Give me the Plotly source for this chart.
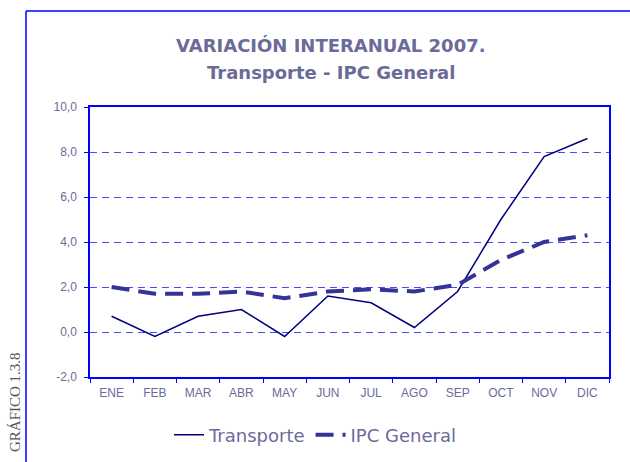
import plotly.graph_objects as go

months = ["ENE", "FEB", "MAR", "ABR", "MAY", "JUN", "JUL", "AGO", "SEP", "OCT", "NOV", "DIC"]
transporte = [0.7, -0.2, 0.7, 1.0, -0.2, 1.6, 1.3, 0.2, 1.8, 5.0, 7.8, 8.6]
ipc_general = [2.0, 1.7, 1.7, 1.8, 1.5, 1.8, 1.9, 1.8, 2.1, 3.2, 4.0, 4.3]
y_ticks = [-2, 0, 2, 4, 6, 8, 10]
y_labels = [f"{v:.1f}".replace(".", ",") for v in y_ticks]

W, H = 630, 462
L, R, T, B = 90, 21, 107, 85
pw, ph = W - L - R, H - T - B

def px(x):
    return (x - L) / pw

def py(y):
    return (H - B - y) / ph

txt = "#6b6b99"
fig = go.Figure()
fig.add_trace(go.Scatter(x=months, y=transporte, name="Transporte", mode="lines",
                         line=dict(color="#000080", width=1.5)))
fig.add_trace(go.Scatter(x=months, y=ipc_general, name="IPC General", mode="lines",
                         line=dict(color="#333399", width=4, dash="18px,9px")))

fig.update_layout(
    width=W, height=H, margin=dict(l=L, r=R, t=T, b=B),
    paper_bgcolor="white", plot_bgcolor="white",
    showlegend=True,
    legend=dict(orientation="h", xref="container", yref="container", x=0.5, y=(H - 435) / H,
                xanchor="center", yanchor="middle",
                font=dict(family="DejaVu Sans", size=18, color=txt)),
    xaxis=dict(type="category", range=[-0.5, len(months) - 0.5], tickson="boundaries",
               ticks="outside", ticklen=4, ticklabelstandoff=4,
               tickcolor="#0000ff", showline=True, linecolor="#0000ff", linewidth=1.5,
               mirror=True, showgrid=False,
               tickfont=dict(family="Liberation Sans", size=12, color=txt)),
    yaxis=dict(range=[-2, 10], tickvals=y_ticks, ticktext=y_labels, ticks="outside", ticklen=4,
               ticklabelstandoff=5,
               tickcolor="#0000ff", showline=True, linecolor="#0000ff", linewidth=1.5,
               mirror=True, showgrid=True, gridcolor="#4a4aff", gridwidth=1, griddash="7px,5px",
               zeroline=False,
               tickfont=dict(family="Liberation Sans", size=12, color=txt)),
    annotations=[
        dict(text="<b>VARIACIÓN INTERANUAL 2007.</b>", xref="paper", yref="paper",
             x=px(331), y=py(45), xanchor="center", yanchor="middle", showarrow=False,
             font=dict(family="DejaVu Sans", size=18, color=txt)),
        dict(text="<b>Transporte - IPC General</b>", xref="paper", yref="paper",
             x=px(331), y=py(72), xanchor="center", yanchor="middle", showarrow=False,
             font=dict(family="DejaVu Sans", size=18, color=txt)),
        dict(text="GRÁFICO 1.3.8", xref="paper", yref="paper", textangle=-90,
             x=px(15), y=py(350), xanchor="center", yanchor="top", showarrow=False,
             font=dict(family="Liberation Serif", size=15, color="#555555")),
    ],
    shapes=[
        dict(type="line", xref="paper", yref="paper", x0=px(26), x1=px(26), y0=py(11), y1=py(470),
             line=dict(color="#0000ff", width=1.5)),
        dict(type="line", xref="paper", yref="paper", x0=px(26), x1=px(640), y0=py(11), y1=py(11),
             line=dict(color="#0000ff", width=1.5)),
    ],
)

fig.write_html("out.html", config={"displayModeBar": False},
               post_script="document.body.style.margin='0';")
